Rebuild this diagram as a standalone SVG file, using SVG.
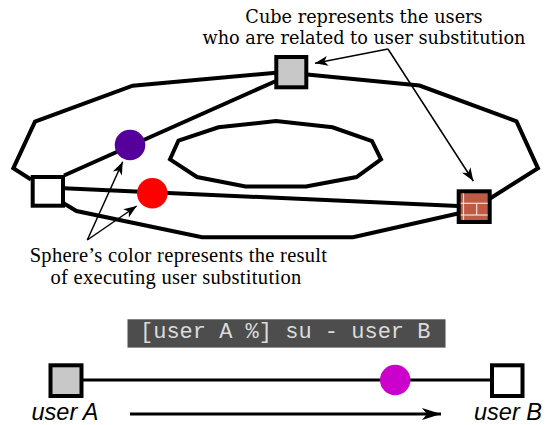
<svg xmlns="http://www.w3.org/2000/svg" width="548" height="425" viewBox="0 0 548 425">
  <style>
    .edge { fill: none; stroke: #000; stroke-width: 4; stroke-linejoin: miter; }
    .thin { fill: none; stroke: #000; stroke-width: 1.5; }
    .cube { stroke: #000; stroke-width: 4; }
    .lbl { font-family: "DejaVu Serif", "Liberation Serif", serif; font-size: 17.7px; fill: #000; text-anchor: middle; }
    .lbl2 { font-family: "Liberation Serif", "Times New Roman", serif; font-size: 20.5px; fill: #000; text-anchor: middle; letter-spacing: 0.3px; }
    .user { font-family: "Liberation Sans", Arial, sans-serif; font-style: italic; font-size: 23.5px; fill: #000; }
    .code { font-family: "Liberation Mono", "Courier New", monospace; font-size: 22px; fill: #dcdcdc; }
  </style>
  <defs>
    <marker id="ah" markerUnits="userSpaceOnUse" markerWidth="16" markerHeight="12" refX="0" refY="0" viewBox="-14 -6 16 12" orient="auto">
      <path d="M0,0 L-13,-5 L-9.5,0 L-13,5 Z" fill="#000"/>
    </marker>
    <marker id="ahb" markerUnits="userSpaceOnUse" markerWidth="22" markerHeight="14" refX="0" refY="0" viewBox="-20 -7 22 14" orient="auto">
      <path d="M0,0 L-19,-6 L-14,0 L-19,6 Z" fill="#000"/>
    </marker>
  </defs>

  <rect width="548" height="425" fill="#fff"/>

  <g id="connectors">
    <polyline class="edge" points="276,72.7 132.7,85.7 35,121.7 13.3,168.3 31,179.5"/>
    <polyline class="edge" points="64,203.5 76.5,211 202,237.3 353,237.3 458,213.5"/>
    <polyline class="edge" points="490,198.5 538,168.3 516.5,121.3 419.5,85.5 307,74.5"/>
    <line class="edge" x1="276" y1="81" x2="64" y2="175.5"/>
    <line class="edge" x1="64" y1="188.3" x2="458" y2="206"/>
    <line class="thin" x1="388" y1="49" x2="315" y2="63.3" marker-end="url(#ah)"/>
    <line class="thin" x1="388" y1="49" x2="473.3" y2="181" marker-end="url(#ah)"/>
    <line class="thin" x1="87.3" y1="240" x2="122.7" y2="161.7" marker-end="url(#ah)"/>
    <line class="thin" x1="87.3" y1="240" x2="136.7" y2="206" marker-end="url(#ah)"/>
    <line x1="81" y1="380" x2="490" y2="380" stroke="#000" stroke-width="3"/>
    <line x1="130" y1="414" x2="441" y2="414" stroke="#000" stroke-width="3.2" marker-end="url(#ahb)"/>
  </g>

  <g id="inner-loop">
    <polygon class="edge" points="170,159.3 178.5,140.5 218.5,127.3 276,121 332.5,127.3 372,141 381,159.3 356.5,177 306,186.5 245.5,186.5 197,177"/>
  </g>

  <g id="cube-top">
    <rect class="cube" x="276.3" y="57" width="30" height="30.3" fill="#c8c8c8"/>
  </g>
  <g id="cube-left">
    <rect class="cube" x="32.7" y="177" width="30.3" height="28.7" fill="#fff"/>
  </g>
  <g id="cube-brick">
    <rect class="cube" x="458.7" y="191.3" width="31" height="30.7" fill="#bf5a45"/>
    <g stroke="#f2e0dc" stroke-width="1.2">
      <line x1="463.5" y1="193.3" x2="463.5" y2="220"/>
      <line x1="460.7" y1="203.3" x2="487.7" y2="203.3"/>
      <line x1="460.7" y1="215" x2="487.7" y2="215"/>
      <line x1="476.7" y1="203.3" x2="476.7" y2="215"/>
    </g>
  </g>
  <g id="sphere-purple">
    <circle cx="130" cy="145" r="15.3" fill="#55009b"/>
  </g>
  <g id="sphere-red">
    <circle cx="152.3" cy="193.3" r="15.3" fill="#ff0000"/>
  </g>

  <g id="label-cube">
    <text class="lbl" x="364" y="23">Cube represents the users</text>
    <text class="lbl" x="364" y="44">who are related to user substitution</text>
  </g>
  <g id="label-sphere">
    <text class="lbl2" x="178.5" y="261.5">Sphere’s color represents the result</text>
    <text class="lbl2" x="176" y="284.3">of executing user substitution</text>
  </g>

  <g id="command">
    <rect x="127.5" y="319.3" width="318" height="28.3" fill="#4d4d4d"/>
    <text class="code" x="140" y="338">[user A %] su - user B</text>
  </g>

  <g id="user-a">
    <rect class="cube" x="50.5" y="365.3" width="31" height="30.7" fill="#c8c8c8"/>
    <text class="user" x="31.5" y="420">user A</text>
  </g>
  <g id="sphere-magenta">
    <circle cx="395.2" cy="380" r="15.2" fill="#cc00cc"/>
  </g>
  <g id="user-b">
    <rect class="cube" x="492" y="365.3" width="30.5" height="30.7" fill="#fff"/>
    <text class="user" x="474" y="420">user B</text>
  </g>
</svg>
